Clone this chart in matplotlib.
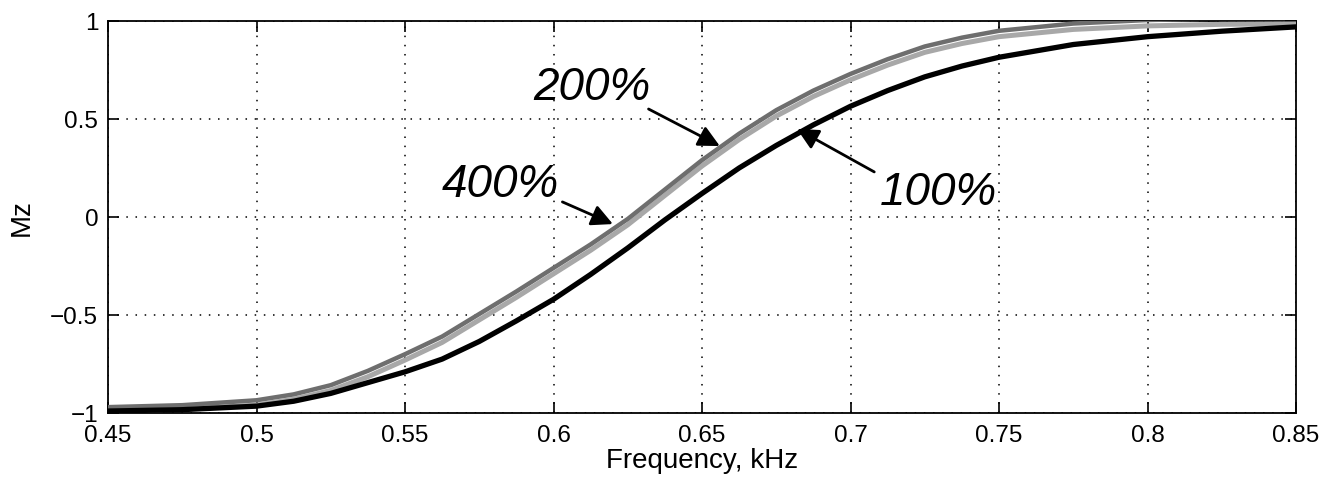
import numpy as np
import matplotlib
matplotlib.use('Agg')
import matplotlib.pyplot as plt

plt.rcParams['font.family'] = ['Liberation Sans', 'DejaVu Sans']

# frequency (kHz) and Mz for the three cases
freq = [0.45, 0.475, 0.5, 0.5125, 0.525, 0.5375, 0.55, 0.5625, 0.575, 0.5875, 0.6, 0.6125, 0.625,
        0.6375, 0.65, 0.6625, 0.675, 0.6875, 0.7, 0.7125, 0.725, 0.7375, 0.75, 0.775, 0.8, 0.825, 0.85]
mz100 = [-0.99, -0.983, -0.965, -0.94, -0.90, -0.845, -0.79, -0.725, -0.635, -0.53, -0.42, -0.293, -0.158,
         -0.015, 0.12, 0.25, 0.365, 0.47, 0.565, 0.645, 0.715, 0.77, 0.815, 0.88, 0.92, 0.948, 0.97]
mz200 = [-0.99, -0.98, -0.96, -0.93, -0.885, -0.815, -0.73, -0.64, -0.525, -0.41, -0.29, -0.17, -0.04,
         0.11, 0.26, 0.395, 0.515, 0.615, 0.70, 0.775, 0.84, 0.885, 0.92, 0.957, 0.975, 0.983, 0.985]
mz400 = [-0.97, -0.96, -0.935, -0.905, -0.858, -0.785, -0.70, -0.61, -0.495, -0.38, -0.26, -0.14, -0.01,
         0.14, 0.29, 0.425, 0.545, 0.645, 0.73, 0.805, 0.87, 0.915, 0.95, 0.987, 1.005, 1.013, 1.015]

xticks = [0.45, 0.5, 0.55, 0.6, 0.65, 0.7, 0.75, 0.8, 0.85]
xticklabels = ['0.45', '0.5', '0.55', '0.6', '0.65', '0.7', '0.75', '0.8', '0.85']
yticks = [-1, -0.5, 0, 0.5, 1]
yticklabels = ['\u22121', '\u22120.5', '0', '0.5', '1']

# label text, text position, arrow tail, arrow tip
notes = [
    ('400%', (0.582, 0.168), (0.603, 0.077), (0.620, -0.036)),
    ('200%', (0.613, 0.663), (0.632, 0.551), (0.656, 0.362)),
    ('100%', (0.7295, 0.128), (0.708, 0.230), (0.682, 0.449)),
]

fig = plt.figure(figsize=(13.26, 4.81), dpi=100)
ax = fig.add_axes([108 / 1326, 1 - 414 / 481, 1188 / 1326, 392 / 481])

ax.plot(freq, mz200, color='#a8a8a8', lw=3.6, solid_joinstyle='round', zorder=3)
ax.plot(freq, mz400, color='#6e6e6e', lw=3.2, solid_joinstyle='round', zorder=4)
ax.plot(freq, mz100, color='black', lw=3.8, solid_joinstyle='round', zorder=5)

ax.set_xlim(0.45, 0.85)
ax.set_ylim(-1, 1)
ax.set_xticks(xticks)
ax.set_xticklabels(xticklabels)
ax.set_yticks(yticks)
ax.set_yticklabels(yticklabels)
ax.tick_params(direction='in', length=8, width=1.2, top=True, right=True, labelsize=17.5)
ax.tick_params(axis='x', pad=8)
ax.tick_params(axis='y', pad=7)
ax.grid(True, color='black', linestyle=(0, (1, 5)), linewidth=1.1)
for s in ax.spines.values():
    s.set_linewidth(1.3)

ax.set_xlabel('Frequency, kHz', fontsize=20, labelpad=1)
ax.set_ylabel('Mz', fontsize=20)
ax.yaxis.set_label_coords(-0.0614, 0.5)

for txt, tpos, tail, tip in notes:
    ax.text(tpos[0], tpos[1], txt, fontsize=33, style='italic', ha='center', va='center', zorder=6)
    ax.annotate('', xy=tip, xytext=tail,
                arrowprops=dict(arrowstyle='-|>', color='black', lw=2, mutation_scale=32,
                                shrinkA=0, shrinkB=0), zorder=6)

plt.savefig('out.png', dpi=100)
